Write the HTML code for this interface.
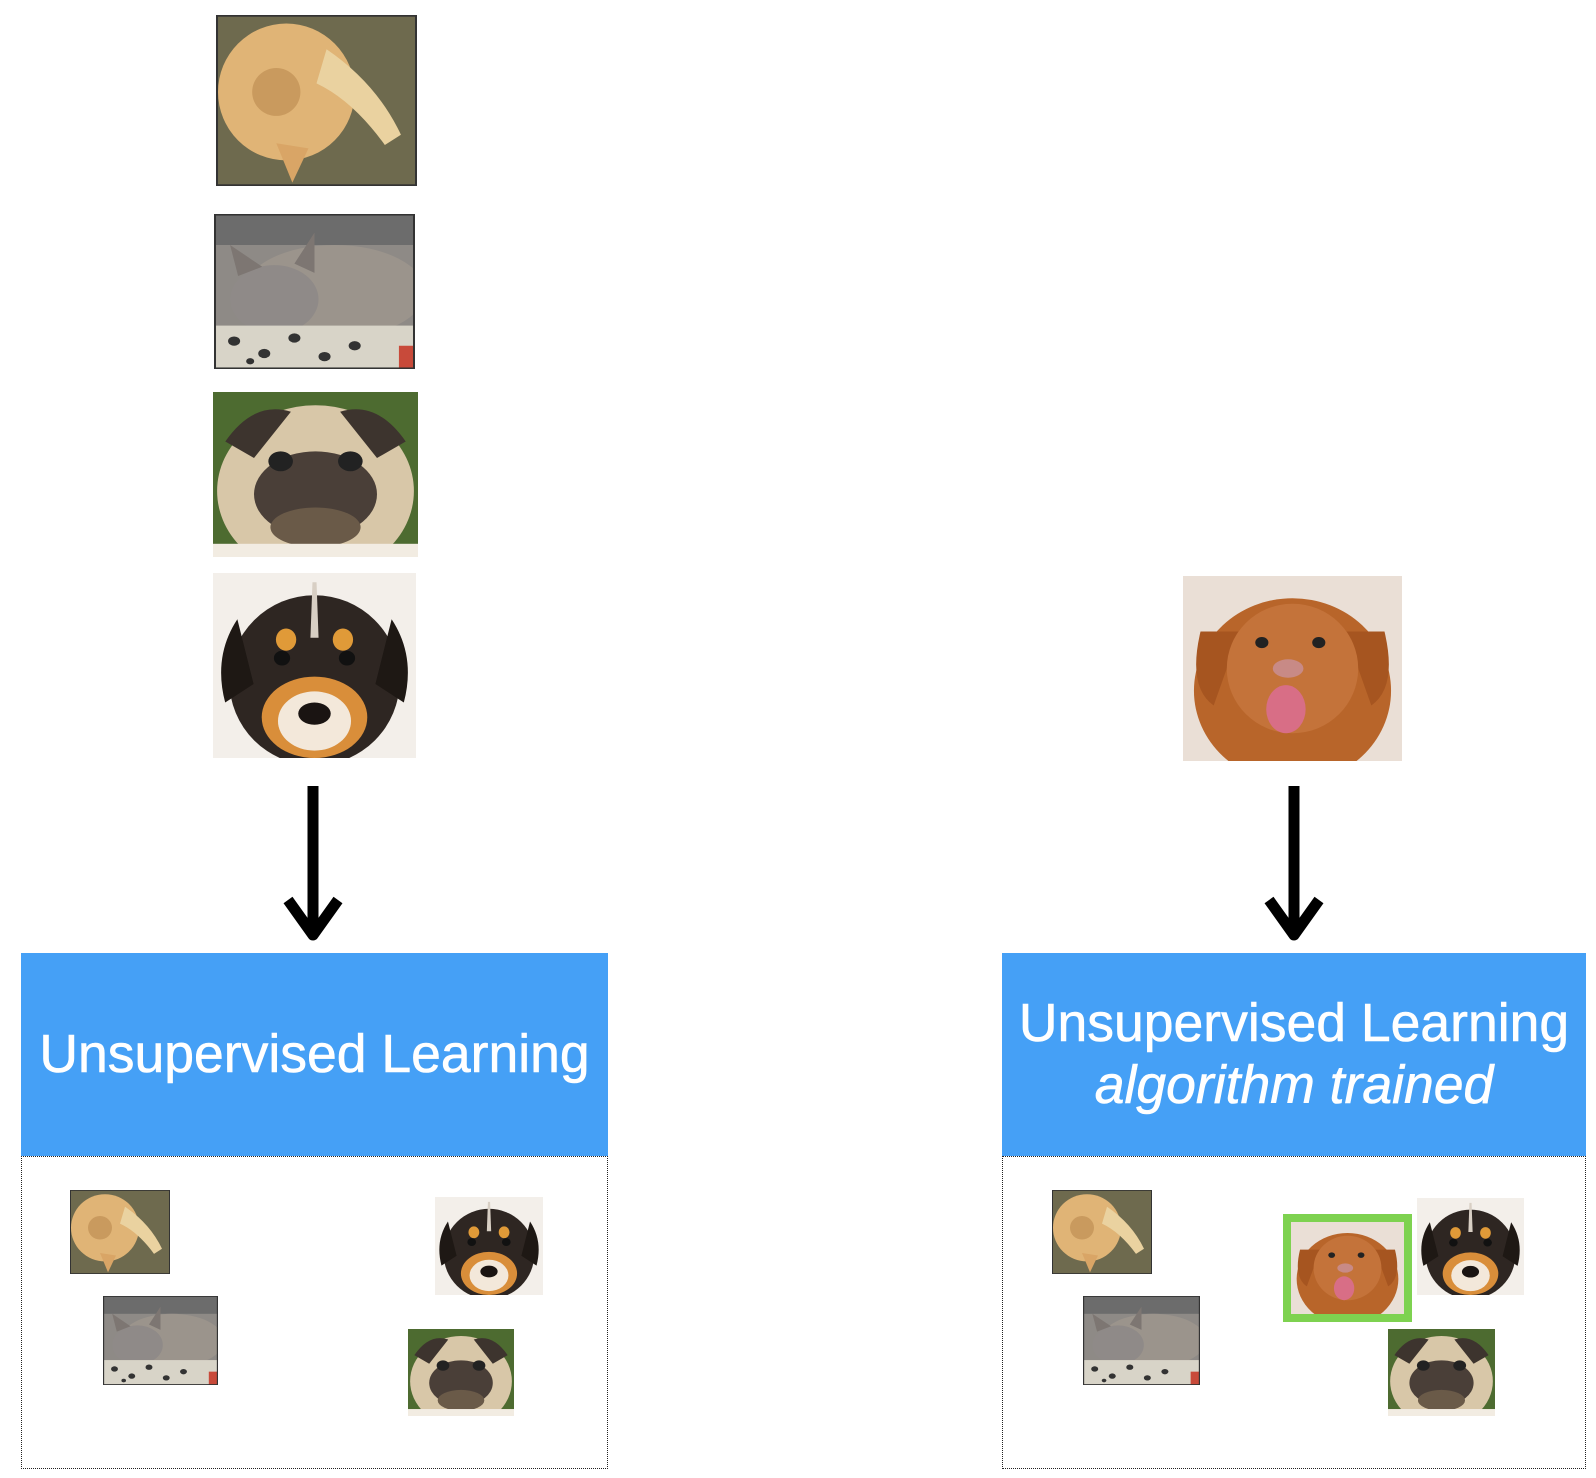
<!DOCTYPE html>
<html><head><meta charset="utf-8"><style>
body{margin:0;width:1596px;height:1478px;background:#fff;position:relative;overflow:hidden;font-family:"Liberation Sans",sans-serif}
svg.p{position:absolute;display:block}
.blue{position:absolute;background:#45a0f6;color:#fff;display:flex;flex-direction:column;align-items:center;justify-content:center;font-size:53.5px;line-height:62px;-webkit-text-stroke:0.6px #fff}
.dot{position:absolute;border:1.5px dotted #222;box-sizing:border-box;border-top:none}
</style></head><body>
<svg width="0" height="0" style="position:absolute">
<defs>
<symbol id="cat1" viewBox="0 0 100 100" preserveAspectRatio="none">
<rect width="100" height="100" fill="#6e6a4e"/><rect x="0" y="0" width="100" height="100" fill="none" stroke="#333" stroke-width="2"/>
<ellipse cx="35" cy="45" rx="34" ry="40" fill="#e0b476"/><path d="M55 20 Q80 40 92 70 L84 76 Q68 50 50 40Z" fill="#ead2a0"/>
<path d="M30 75 L38 98 L46 78Z" fill="#d9a566"/><ellipse cx="30" cy="45" rx="12" ry="14" fill="#c99a5e"/>
</symbol>
<symbol id="cat2" viewBox="0 0 100 100" preserveAspectRatio="none">
<rect width="100" height="100" fill="#8e8a86"/><rect y="0" width="100" height="20" fill="#6c6c6c"/>
<ellipse cx="60" cy="50" rx="45" ry="30" fill="#9b948c"/><ellipse cx="30" cy="55" rx="22" ry="22" fill="#8f8a88"/>
<path d="M12 40 L8 20 L24 34Z M40 32 L50 12 L50 38Z" fill="#7d7672"/>
<rect y="72" width="100" height="28" fill="#d8d4c8"/>
<g fill="#333"><circle cx="10" cy="82" r="3"/><circle cx="25" cy="90" r="3"/><circle cx="40" cy="80" r="3"/><circle cx="55" cy="92" r="3"/><circle cx="18" cy="95" r="2"/><circle cx="70" cy="85" r="3"/></g>
<rect x="92" y="85" width="8" height="15" fill="#c84a3a"/><rect width="100" height="100" fill="none" stroke="#333" stroke-width="2"/>
</symbol>
<symbol id="pug" viewBox="0 0 100 100" preserveAspectRatio="none">
<rect width="100" height="100" fill="#4d6b30"/><ellipse cx="50" cy="60" rx="48" ry="52" fill="#d8c7a8"/>
<path d="M6 30 Q20 5 38 12 L20 40Z M94 30 Q80 5 62 12 L80 40Z" fill="#3d342e"/>
<ellipse cx="50" cy="62" rx="30" ry="26" fill="#4a3f38"/><circle cx="33" cy="42" r="6" fill="#222"/><circle cx="67" cy="42" r="6" fill="#222"/>
<ellipse cx="50" cy="82" rx="22" ry="12" fill="#6a5a48"/><rect y="92" width="100" height="8" fill="#f2ece2"/>
</symbol>
<symbol id="pup" viewBox="0 0 100 100" preserveAspectRatio="none">
<rect width="100" height="100" fill="#f3efea"/><ellipse cx="50" cy="58" rx="42" ry="46" fill="#2e2622"/>
<path d="M12 25 Q0 45 6 70 L20 60Z M88 25 Q100 45 94 70 L80 60Z" fill="#1e1814"/>
<ellipse cx="50" cy="78" rx="26" ry="22" fill="#d98e3a"/><ellipse cx="50" cy="80" rx="18" ry="16" fill="#f3e8da"/>
<ellipse cx="50" cy="76" rx="8" ry="6" fill="#1a1412"/><ellipse cx="36" cy="36" rx="5" ry="6" fill="#e09a38"/><ellipse cx="64" cy="36" rx="5" ry="6" fill="#e09a38"/>
<circle cx="34" cy="46" r="4" fill="#111"/><circle cx="66" cy="46" r="4" fill="#111"/><path d="M49 5 L51 5 L52 35 L48 35Z" fill="#d8cfc4"/>
</symbol>
<symbol id="dog" viewBox="0 0 100 100" preserveAspectRatio="none">
<rect width="100" height="100" fill="#eadfd6"/><ellipse cx="50" cy="62" rx="45" ry="50" fill="#b8652a"/>
<path d="M8 30 Q2 60 14 70 L26 30Z M92 30 Q98 60 86 70 L74 30Z" fill="#a65520"/>
<ellipse cx="50" cy="50" rx="30" ry="35" fill="#c4733a"/><circle cx="36" cy="36" r="3" fill="#222"/><circle cx="62" cy="36" r="3" fill="#222"/>
<ellipse cx="48" cy="50" rx="7" ry="5" fill="#c88a86"/><ellipse cx="47" cy="72" rx="9" ry="13" fill="#d86e86"/>
</symbol>
</defs></svg>

<svg class="p" style="left:216px;top:15px" width="201" height="171"><use href="#cat1" width="201" height="171"/></svg>
<svg class="p" style="left:214px;top:214px" width="201" height="155"><use href="#cat2" width="201" height="155"/></svg>
<svg class="p" style="left:213px;top:392px" width="205" height="165"><use href="#pug" width="205" height="165"/></svg>
<svg class="p" style="left:213px;top:573px" width="203" height="185"><use href="#pup" width="203" height="185"/></svg>
<svg class="p" style="left:1183px;top:576px" width="219" height="185"><use href="#dog" width="219" height="185"/></svg>

<svg class="p" style="left:0;top:0" width="1596" height="960">
<g stroke="#000" stroke-width="11" fill="none" stroke-linejoin="round" stroke-linecap="butt">
<line x1="313" y1="786" x2="313" y2="934"/><polyline points="288,900 313,935 338,900"/>
<line x1="1294" y1="786" x2="1294" y2="934"/><polyline points="1269,900 1294,935 1319,900"/>
</g></svg>

<div class="blue" style="left:21px;top:953px;width:587px;height:203px">Unsupervised Learning</div>
<div class="blue" style="left:1002px;top:953px;width:584px;height:203px"><div>Unsupervised Learning</div><div style="font-style:italic">algorithm trained</div></div>
<div class="dot" style="left:21px;top:1156px;width:587px;height:313px"></div>
<div class="dot" style="left:1002px;top:1156px;width:584px;height:313px"></div>
<div style="position:absolute;left:21px;top:1156px;width:587px;border-top:1.5px dotted #222"></div>
<div style="position:absolute;left:1002px;top:1156px;width:584px;border-top:1.5px dotted #222"></div>

<svg class="p" style="left:70px;top:1190px" width="100" height="84"><use href="#cat1" width="100" height="84"/></svg>
<svg class="p" style="left:103px;top:1296px" width="115" height="89"><use href="#cat2" width="115" height="89"/></svg>
<svg class="p" style="left:435px;top:1197px" width="108" height="98"><use href="#pup" width="108" height="98"/></svg>
<svg class="p" style="left:408px;top:1329px" width="106" height="87"><use href="#pug" width="106" height="87"/></svg>

<svg class="p" style="left:1052px;top:1190px" width="100" height="84"><use href="#cat1" width="100" height="84"/></svg>
<svg class="p" style="left:1083px;top:1296px" width="117" height="89"><use href="#cat2" width="117" height="89"/></svg>
<div style="position:absolute;left:1283px;top:1214px;width:129px;height:108px;background:#7ed250"></div>
<svg class="p" style="left:1291px;top:1222px" width="113" height="92"><use href="#dog" width="113" height="92"/></svg>
<svg class="p" style="left:1417px;top:1198px" width="107" height="97"><use href="#pup" width="107" height="97"/></svg>
<svg class="p" style="left:1388px;top:1329px" width="107" height="87"><use href="#pug" width="107" height="87"/></svg>
</body></html>
